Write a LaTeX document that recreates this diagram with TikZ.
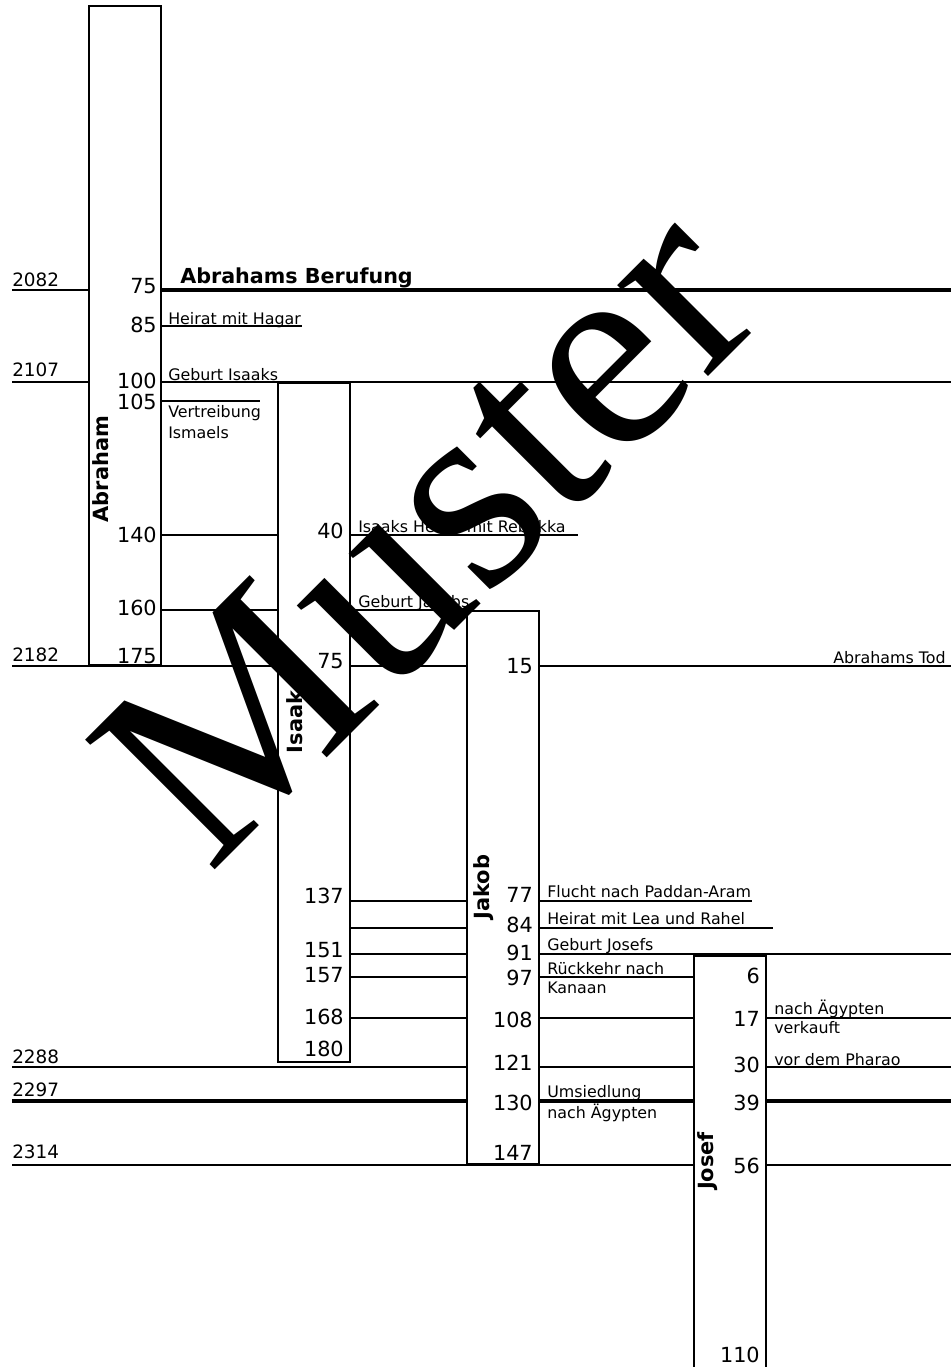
\documentclass[tikz,border=0pt]{standalone}
\usepackage{fontspec}
\setmainfont{DejaVu Sans}
\newfontfamily\wmfont{Liberation Serif}
\usetikzlibrary{fit}
\begin{document}
\begin{tikzpicture}[x=0.75pt,y=-0.75pt,
  thinln/.style={line width=1.1pt},
  medln/.style={line width=1.45pt},
  thickln/.style={line width=2.4pt},
  lifebox/.style={draw, line width=2.05pt, fill=white, inner sep=0pt},
  num/.style={font=\fontsize{15.6}{18}\selectfont, anchor=base east, inner sep=0pt},
  lab/.style={font=\fontsize{11.9}{14}\selectfont, anchor=base west, inner sep=0pt},
  yr/.style={font=\fontsize{13.8}{16}\selectfont, anchor=base west, inner sep=0pt},
  pname/.style={font=\bfseries\fontsize{15.7}{18}\selectfont, rotate=90, inner sep=0pt},
  watermark/.style={font=\wmfont\fontsize{210}{210}\selectfont, anchor=base west, rotate=45, inner sep=0pt}]
\useasboundingbox (0,0) rectangle (951,1367);
\clip (0,0) rectangle (951,1367);
% timeline rules
\draw[medln] (12,290) -- (89,290);
\draw[thickln] (161,290) -- (951,290);
\foreach \y/\a/\b in {326/161/302, 382/12/951, 401/161/260, 535/161/578, 610/161/467,
  901/350/752, 928/350/773, 954/350/951, 977/350/694, 1018/350/951, 1067/12/951, 1165/12/951}
  \draw[thinln] (\a,\y) -- (\b,\y);
\draw[medln] (12,666) -- (951,666);
\draw[thickln] (12,1101) -- (951,1101);
% life boxes
\node[lifebox, fit={(89,6) (161,665)}] (abraham) {};
\node[lifebox, fit={(278,383) (350,1062)}] (isaak) {};
\node[lifebox, fit={(467,611) (539,1164)}] (jakob) {};
\fill[white] (694,956) rectangle (766,1380);
\draw[line width=2.05pt] (694,1380) -- (694,956) -- (766,956) -- (766,1380);
% names
\node[pname] (nAbr) at (101,469) {Abraham};
\node[pname] (nIsa) at (295,722) {Isaak};
\node[pname] (nJak) at (484,887) {Jakob};
\node[pname] (nJos) at (708,1161) {Josef};
% years
\foreach \y/\t in {286/2082, 376/2107, 661/2182, 1063/2288, 1096/2297, 1158/2314}
  \node[yr] at (12,\y) {\t};
% ages Abraham
\foreach \y/\t in {293/75, 332/85, 388/100, 409/105, 542/140, 615/160, 663/175}
  \node[num] at (157,\y) {\t};
% ages Isaak
\foreach \y/\t in {538/40, 668/75, 903/137, 957/151, 982/157, 1024/168, 1056/180}
  \node[num] at (344,\y) {\t};
% ages Jakob
\foreach \y/\t in {673/15, 902/77, 932/84, 960/91, 985/97, 1027/108, 1070/121, 1110/130, 1160/147}
  \node[num] at (533,\y) {\t};
% ages Josef
\foreach \y/\t in {983/6, 1026/17, 1072/30, 1110/39, 1173/56, 1362/110}
  \node[num] at (760,\y) {\t};
% events
\node[font=\bfseries\fontsize{15.5}{18}\selectfont, anchor=base west, inner sep=0pt] at (180,283) {Abrahams Berufung};
\node[lab] at (168,324) {Heirat mit Hagar};
\node[lab] at (168,380) {Geburt Isaaks};
\node[lab] at (168,417) {Vertreibung};
\node[lab] at (168,438) {Ismaels};
\node[lab] at (358,532) {Isaaks Heirat mit Rebekka};
\node[lab] at (358,607) {Geburt Jakobs};
\node[lab, anchor=base east] at (946,663) {Abrahams Tod};
\node[lab] at (547,897) {Flucht nach Paddan-Aram};
\node[lab] at (547,924) {Heirat mit Lea und Rahel};
\node[lab] at (547,950) {Geburt Josefs};
\node[lab] at (547,974) {Rückkehr nach};
\node[lab] at (547,993) {Kanaan};
\node[lab] at (774,1014) {nach Ägypten};
\node[lab] at (774,1033) {verkauft};
\node[lab] at (774,1065) {vor dem Pharao};
\node[lab] at (547,1097) {Umsiedlung};
\node[lab] at (547,1118) {nach Ägypten};
% watermark
\node[watermark] (wm) at (209,876) {Muster};
\end{tikzpicture}
\end{document}
